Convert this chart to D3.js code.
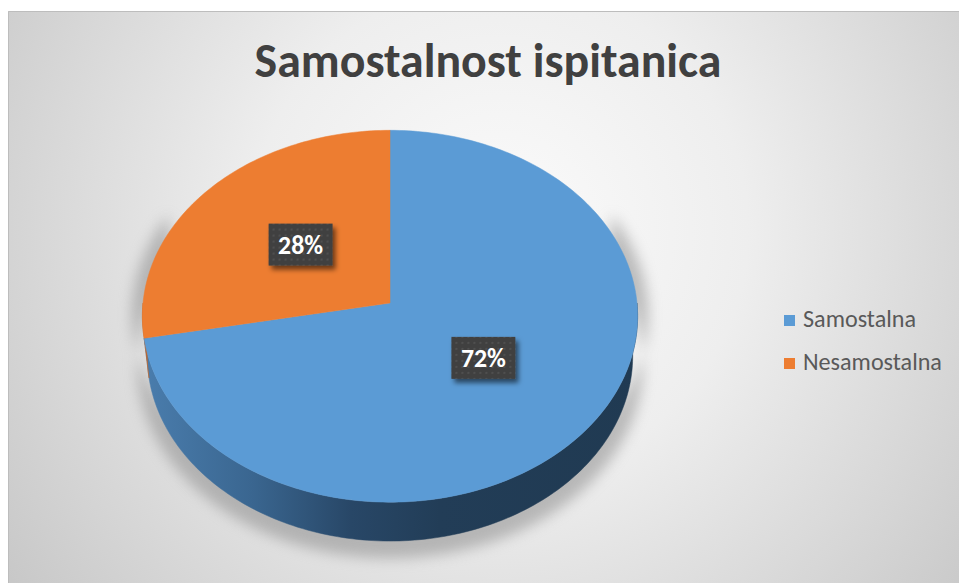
<!DOCTYPE html>
<html>
<head>
<meta charset="utf-8">
<script src="https://cdn.jsdelivr.net/npm/d3@7"></script>
<style>
  html, body { margin: 0; padding: 0; background: #fff; }
  svg { display: block; }
</style>
</head>
<body>
<svg id="chart" width="959" height="583"></svg>
<script>
// data
var title = "Samostalnost ispitanica";
var categories = ["Samostalna", "Nesamostalna"];
var values = [72, 28];
var colors = ["#5B9BD5", "#ED7D31"];

var svg = d3.select("#chart");
var defs = svg.append("defs");
var font = "Calibri, Carlito, Lato, sans-serif";

// background gradient
var bg = defs.append("radialGradient").attr("id", "bg")
    .attr("gradientUnits", "userSpaceOnUse")
    .attr("cx", 500).attr("cy", 230).attr("r", 620);
bg.append("stop").attr("offset", "0%").attr("stop-color", "#fbfbfb");
bg.append("stop").attr("offset", "40%").attr("stop-color", "#eeeeee");
bg.append("stop").attr("offset", "100%").attr("stop-color", "#c6c6c6");

svg.append("rect").attr("x", 8).attr("y", 11).attr("width", 951).attr("height", 572)
    .attr("fill", "url(#bg)");
svg.append("path").attr("d", "M8.5,583V11.5H959")
    .attr("fill", "none").attr("stroke", "#bdbdbd").attr("stroke-width", 1);

// title
var t = svg.append("text")
    .attr("x", 488).attr("y", 77)
    .attr("text-anchor", "middle")
    .attr("font-family", font).attr("font-weight", "bold")
    .attr("font-size", 44).attr("fill", "#404040")
    .text(title);
fitWidth(t, 467);

function fitWidth(sel, w) {
  var len = sel.node().getComputedTextLength();
  var fs = parseFloat(sel.attr("font-size"));
  sel.attr("font-size", fs * w / len);
}

// 3d projection of the pie
var cx = 390, cy = 303;
var phi = 48.5 * Math.PI / 180;
var cs = Math.cos(phi), sn = Math.sin(phi);
var D = 9.30, F = 2297, h = 0.25;

function project(theta, rho, y) {
  var X = rho * Math.sin(theta), Z = -rho * Math.cos(theta);
  var v = y * cs - Z * sn;
  var d = D - (Z * cs + y * sn);
  return [cx + F * X / d, cy - F * v / d];
}

function arcPts(a0, a1, rho, y) {
  var n = Math.max(2, Math.ceil((a1 - a0) / 0.02));
  return d3.range(n + 1).map(function(i) { return project(a0 + (a1 - a0) * i / n, rho, y); });
}

var line = d3.line();
var pie = d3.pie().sort(null).value(function(d) { return d; });
var arcs = pie(values);
var total = d3.sum(values);
var pct = d3.format(".0%");

// shadow
var blur = defs.append("filter").attr("id", "blur")
    .attr("x", "-20%").attr("y", "-20%").attr("width", "140%").attr("height", "140%");
blur.append("feGaussianBlur").attr("stdDeviation", 7);

var shPts = arcPts(Math.PI * 0.35, Math.PI * 1.65, 1.045, -h - 0.05)
    .concat(arcPts(Math.PI * 0.35, Math.PI * 1.65, 1.04, 0.02).reverse());
svg.append("path").attr("d", line(shPts) + "Z")
    .attr("fill", "#8c8c8c").attr("opacity", 0.55)
    .attr("filter", "url(#blur)");

// side walls
var sideBlue = defs.append("linearGradient").attr("id", "side0")
    .attr("gradientUnits", "userSpaceOnUse")
    .attr("x1", 143).attr("x2", 638).attr("y1", 0).attr("y2", 0);
[["0%", "#4a7dad"], ["22%", "#3a6690"], ["42%", "#284767"], ["60%", "#223d57"], ["100%", "#203a52"]]
  .forEach(function(s) { sideBlue.append("stop").attr("offset", s[0]).attr("stop-color", s[1]); });
var sideOrange = defs.append("linearGradient").attr("id", "side1")
    .attr("gradientUnits", "userSpaceOnUse")
    .attr("x1", 143).attr("x2", 638).attr("y1", 0).attr("y2", 0);
[["0%", "#c0662a"], ["100%", "#7a3e16"]]
  .forEach(function(s) { sideOrange.append("stop").attr("offset", s[0]).attr("stop-color", s[1]); });

arcs.forEach(function(a, i) {
  var a0 = Math.max(a.startAngle, Math.PI / 2);
  var a1 = Math.min(a.endAngle, Math.PI * 1.5);
  if (a1 <= a0) return;
  var pts = arcPts(a0, a1, 1, 0).concat(arcPts(a0, a1, 1, -h).reverse());
  svg.append("path").attr("d", line(pts) + "Z")
      .attr("fill", "url(#side" + i + ")")
      .attr("stroke", "url(#side" + i + ")").attr("stroke-width", 0.5);
});

// top face
arcs.forEach(function(a, i) {
  var pts = [project(0, 0, 0)].concat(arcPts(a.startAngle, a.endAngle, 1, 0));
  svg.append("path").attr("d", line(pts) + "Z")
      .attr("fill", colors[i]).attr("stroke", colors[i]).attr("stroke-width", 0.5);
});

// data labels
var pat = defs.append("pattern").attr("id", "dots")
    .attr("patternUnits", "userSpaceOnUse").attr("width", 6).attr("height", 6);
pat.append("rect").attr("width", 6).attr("height", 6).attr("fill", "#404040");
pat.append("circle").attr("cx", 3).attr("cy", 3).attr("r", 0.9).attr("fill", "#565656");

var drop = defs.append("filter").attr("id", "drop")
    .attr("x", "-30%").attr("y", "-30%").attr("width", "170%").attr("height", "170%");
drop.append("feDropShadow").attr("dx", 3).attr("dy", 4).attr("stdDeviation", 2.5)
    .attr("flood-color", "#000").attr("flood-opacity", 0.55);

arcs.forEach(function(a) {
  var p = project((a.startAngle + a.endAngle) / 2, 0.48, 0);
  var g = svg.append("g").attr("transform", "translate(" + p[0] + "," + (p[1] - 3) + ")");
  g.append("rect").attr("x", -32).attr("y", -21).attr("width", 64).attr("height", 42)
      .attr("fill", "url(#dots)").attr("filter", "url(#drop)");
  var lt = g.append("text").attr("y", 9).attr("text-anchor", "middle")
      .attr("font-family", font).attr("font-weight", "bold")
      .attr("font-size", 26).attr("fill", "#fff")
      .text(pct(a.data / total));
  fitWidth(lt, 45);
});

// legend
var leg = svg.append("g").attr("transform", "translate(784,315)");
var items = leg.selectAll("g").data(categories).enter().append("g")
    .attr("transform", function(d, i) { return "translate(0," + (i * 43) + ")"; });
items.append("rect").attr("width", 11).attr("height", 11)
    .attr("fill", function(d, i) { return colors[i]; });
var lts = items.append("text").attr("x", 19).attr("y", 11.5)
    .attr("font-family", font).attr("font-size", 20).attr("fill", "#595959")
    .text(function(d) { return d; });
var longest = lts.filter(function(d) { return d === "Nesamostalna"; });
fitWidth(longest, 139);
lts.attr("font-size", longest.attr("font-size"));
</script>
</body>
</html>
